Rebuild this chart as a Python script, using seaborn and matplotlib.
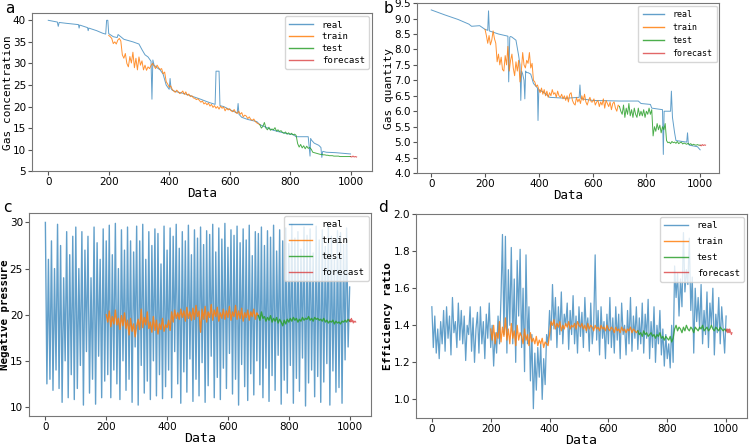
import numpy as np
import pandas as pd
import matplotlib
matplotlib.use("Agg")
import matplotlib.pyplot as plt
import seaborn as sns

# ---------------- panel a: gas concentration ----------------
a_real_x = [0, 30, 33, 36, 60, 100, 102, 104, 130, 132, 134, 160, 180, 190, 193,
            197, 200, 215, 228, 231, 250, 280, 300, 310, 320, 330, 340, 343, 346, 350,
            360, 370, 380, 390, 400, 403, 406, 410, 420, 450, 500, 530, 552, 555, 565,
            568, 580, 600, 625, 628, 631, 640, 660, 690, 700, 720, 740, 760, 790, 810,
            820, 860, 866, 868, 871, 880, 895, 902, 905, 908, 920, 950, 1000]
a_real_y = [40.0, 39.6, 38.6, 39.5, 39.3, 39.0, 38.2, 38.9, 38.3, 37.6, 38.2, 37.6, 37.0, 36.8, 40.0,
            40.0, 36.9, 36.2, 36.0, 36.7, 35.6, 35.0, 34.5, 33.2, 32.0, 31.5, 30.5, 21.7, 30.8, 29.6,
            29.0, 28.5, 27.5, 25.0, 24.0, 26.5, 24.2, 23.8, 23.5, 23.0, 21.8, 21.0, 20.5, 28.2, 28.2,
            20.2, 20.0, 19.3, 18.5, 20.7, 18.2, 17.5, 17.0, 16.5, 15.8, 15.2, 14.6, 14.2, 13.7, 13.5,
            13.0, 13.0, 8.5, 12.6, 12.2, 11.5, 11.0, 10.5, 8.2, 9.6, 9.4, 9.3, 9.0]
a_train = [36.5, 36.2, 35.8, 34.6, 35.0, 34.5, 35.4, 35.8, 35.2, 32.0, 31.2, 32.3, 30.0, 29.2, 31.6,
           30.1, 32.6, 29.0, 31.2, 28.5, 31.5,
           29.6, 30.6, 28.5, 29.6, 28.4, 29.2, 28.8, 29.5, 30.0, 29.4, 28.8, 29.6, 29.0, 28.6, 28.8,
           27.6, 28.0, 25.8, 25.2, 24.5,
           24.8, 24.0, 23.6, 23.3, 23.8, 23.4, 23.0, 23.2, 23.6, 22.8, 23.4, 22.6, 22.9, 22.3, 22.5,
           22.0, 21.9, 21.6, 21.8, 21.4,
           21.0, 21.3, 20.6, 20.9, 20.4, 20.8, 20.1, 20.5, 19.8, 20.2, 19.6, 20.0, 19.4, 20.1, 19.6,
           19.9, 19.0, 19.6, 19.2, 19.5,
           19.0, 18.8, 19.3, 18.6, 18.4, 18.9, 18.2, 18.6, 17.6, 18.0, 17.8, 17.2, 17.6, 17.0, 16.8,
           17.1, 16.5, 16.2, 16.0, 15.8]
a_test = [15.8, 15.0, 15.4, 16.3, 15.0, 14.6, 15.2, 14.5, 14.8, 14.6, 15.1, 14.3, 14.6, 14.2, 14.4,
          14.0, 13.8, 14.1, 13.6, 13.9, 13.5,
          13.8, 13.4, 13.6, 13.3, 11.4, 10.6, 11.2, 10.4, 10.9, 10.2, 10.8, 10.3, 10.5, 10.1, 9.4,
          9.3, 9.2, 9.1, 9.0, 8.9,
          8.9, 8.8, 8.8, 8.7, 8.7, 8.6, 8.6, 8.6, 8.5, 8.5, 8.5, 8.5, 8.4, 8.4, 8.4,
          8.4, 8.4, 8.4, 8.4, 8.4]
a_forecast = [8.4, 8.3, 8.5, 8.3, 8.4, 8.3]

# ---------------- panel b: gas quantity ----------------
b_real_x = [0, 50, 100, 140, 150, 180, 200, 210, 213, 216, 250, 285, 288, 292, 295,
            300, 315, 320, 325, 330, 333, 336, 340, 345, 348, 351, 354, 360, 370, 380,
            390, 395, 397, 400, 420, 440, 500, 550, 553, 556, 560, 600, 700, 770, 780,
            815, 820, 860, 863, 866, 869, 885, 890, 893, 897, 905, 910, 950, 953, 956,
            960, 990, 1000]
b_real_y = [9.28, 9.12, 8.97, 8.82, 8.75, 8.77, 8.65, 8.62, 9.25, 8.6, 8.5, 8.43, 6.95, 8.4, 8.42,
            8.4, 8.3, 8.05, 7.8, 7.5, 6.35, 7.3, 7.2, 7.0, 6.4, 7.3, 7.25, 7.25, 7.2, 6.9,
            6.8, 6.75, 5.7, 6.7, 6.6, 6.45, 6.42, 6.45, 6.85, 6.42, 6.4, 6.35, 6.33, 6.33, 6.25,
            6.22, 6.1, 6.05, 4.6, 6.0, 6.0, 6.0, 6.0, 6.65, 5.8, 5.3, 5.05, 5.0, 5.3, 4.95,
            4.9, 4.85, 4.75]
b_train = [8.65, 8.45, 8.2, 8.45, 8.15, 8.3, 8.6, 8.35, 8.2, 7.6, 7.85, 7.5, 7.75, 7.35, 7.3,
           7.8, 7.5, 8.1, 7.3, 7.65, 7.85,
           7.4, 7.15, 7.6, 7.3, 7.65, 6.95, 7.3, 7.9, 7.5, 7.4, 7.65, 7.55, 7.9, 7.4, 7.55,
           7.0, 6.95, 6.8, 6.85, 6.7,
           6.6, 6.75, 6.55, 6.7, 6.5, 6.65, 6.45, 6.6, 6.5, 6.7, 6.55, 6.6, 6.45, 6.65, 6.5,
           6.45, 6.55, 6.4, 6.5, 6.35,
           6.5, 6.3, 6.55, 6.6, 6.35, 6.25, 6.2, 6.45, 6.3, 6.4, 6.25, 6.5, 6.35, 6.55, 6.3,
           6.2, 6.35, 6.45, 6.3, 6.3,
           6.4, 6.2, 6.3, 6.35, 6.15, 6.3, 6.2, 6.4, 6.1, 6.35, 6.25, 6.15, 6.3, 6.05, 6.25,
           6.3, 6.1, 6.0, 6.2, 6.15]
b_test = [6.15, 6.0, 5.9, 6.2, 5.8, 6.1, 5.9, 6.25, 5.85, 6.05, 5.8, 6.1, 5.9, 5.8, 6.1,
          5.85, 6.0, 5.85, 6.05, 5.8, 6.0,
          5.9, 6.1, 5.9, 6.05, 5.2, 5.5, 5.35, 5.6, 5.4, 5.55, 5.3, 5.5, 5.4, 5.6, 5.05,
          4.98, 5.0, 4.95, 5.02, 4.98,
          5.0, 4.96, 5.02, 4.95, 4.98, 5.0, 4.94, 4.97, 4.95, 4.93, 4.96, 4.92, 4.95, 4.9, 4.93,
          4.91, 4.9, 4.92, 4.9, 4.9]
b_forecast = [4.9, 4.88, 4.92, 4.89, 4.91, 4.9]

# ---------------- panel c: negative pressure ----------------
c_real = [30, 12.5, 26, 13, 28, 11.8, 25, 14, 29.8, 12, 27.5, 10.5, 24, 15, 29, 11, 26.5, 13.5, 28.5, 10.8, 29.5,
          12, 25, 14.5, 29, 10.2, 27, 16, 28.5, 11.5, 24, 13, 29.5, 10.3, 27.8, 15.5, 26, 11, 29.3, 12.8, 28,
          13.5, 29.7, 11, 26.5, 14, 29.9, 12.5, 25, 10.8, 29.2, 15, 27, 11.8, 29.5, 13, 28, 10.5, 26.8, 16.5, 29.6,
          10.2, 28, 14.5, 29.8, 11.5, 26, 12.8, 29, 10.8, 27.5, 15, 29.3, 11.2, 28.8, 13.5, 25.5, 10.9, 29.6, 12.2, 27,
          14, 29.4, 11, 28.5, 16, 29.8, 12.5, 27.2, 10.4, 29, 13.8, 28, 11.6, 29.7, 15.2, 26.5, 10.6, 29.2, 13, 28.3,
          11.2, 29.5, 14.8, 27.6, 10.5, 29.1, 12.3, 28.7, 15.5, 29.8, 11, 26.8, 13.2, 29.4, 10.8, 28.2, 14.2, 29.9, 12, 27.3,
          15.8, 29.2, 11.4, 28.6, 13, 29.6, 10.2, 27.8, 14.6, 29.3, 12.2, 28.1, 10.7, 29.7, 13.6, 26.4, 11.3, 29, 15, 28.8,
          12.4, 29.5, 11, 27.5, 14.2, 29.1, 10.6, 28.4, 13.4, 29.7, 11.8, 26.9, 15.6, 29.2, 10.3, 28, 12.9, 29.4, 11.5, 27.7,
          14.5, 29.8, 10.4, 28.3, 13.1, 29, 11.7, 27.1, 15.3, 29.5, 10.1, 28.6, 12.6, 29.3, 14, 26.7, 11.1, 29.6, 13.3, 28.1,
          10.5, 29.2, 12.7, 27.4, 14.7, 29.7, 10.2, 28.5, 13.9, 26.2, 11.6, 29.1, 12.1, 28.9, 10.4, 27.6, 15.1, 29.4, 16.5, 23]
c_train = [20, 19.2, 20.4, 18.7, 19.8, 19.0, 20.5, 18.9, 19.6, 18.4, 19.9, 18.8, 20.2, 18.5, 19.4, 17.8, 19.6, 18.2, 19.0, 17.6, 18.8,
           19.5, 18.4, 20.6, 18.6, 19.7, 18.9, 20.3, 18.5, 19.2, 18.1, 19.8, 18.3, 19.4, 17.9, 19.0, 18.4, 19.6, 18.2, 18.9, 18.6,
           19.4, 18.3, 20.3, 19.2, 20.5, 19.6, 20.2, 19.5, 20.6, 19.7, 20.4, 19.3, 20.8, 19.6, 20.3, 19.4, 20.7, 19.5, 21.0, 19.8,
           20.4, 18.1, 20.6, 19.5, 20.9, 19.2, 20.3, 19.7, 21.1, 19.4, 20.5, 19.8, 20.8, 19.3, 20.2, 19.6, 20.6, 19.5, 20.4, 19.7,
           20.9, 19.4, 20.3, 19.8, 21.0, 19.5, 20.4, 19.6, 20.7, 19.3, 20.2, 19.7, 20.5, 19.4, 20.3, 19.8, 20.6, 19.5, 20.2, 19.9]
c_test = [19.9, 19.4, 20.3, 19.6, 19.8, 19.3, 19.7, 19.4, 19.9, 19.2, 19.6, 19.3, 19.7, 19.1, 19.5, 19.2, 18.8, 19.4, 19.0, 19.5, 19.2,
          19.6, 19.3, 19.7, 19.4, 19.6, 19.2, 19.5, 19.3, 19.7, 19.4, 19.6, 19.5, 19.8, 19.4, 19.6, 19.3, 19.7, 19.5, 19.6, 19.4,
          19.5, 19.3, 19.6, 19.2, 19.4, 19.1, 19.3, 19.2, 19.4, 19.0, 19.3, 19.1, 19.2, 19.0, 19.3, 19.2, 19.4, 19.2, 19.5, 19.3]
c_forecast = [19.3, 19.5, 19.2, 19.6, 19.3, 19.4, 19.1, 19.3, 19.2, 19.3, 19.2]

# ---------------- panel d: efficiency ratio ----------------
d_real = [1.50, 1.28, 1.45, 1.25, 1.38, 1.22, 1.42, 1.30, 1.48, 1.26, 1.50, 1.33, 1.45, 1.24, 1.55, 1.36, 1.42, 1.28, 1.52, 1.32, 1.48,
          1.30, 1.45, 1.21, 1.40, 1.35, 1.50, 1.26, 1.44, 1.20, 1.38, 1.47, 1.25, 1.50, 1.30, 1.42, 1.22, 1.46, 1.33, 1.52, 1.28,
          1.40, 1.18, 1.36, 1.25, 1.45, 1.30, 1.55, 1.89, 1.35, 1.88, 1.25, 1.70, 1.40, 1.82, 1.30, 1.65, 1.20, 1.75, 1.45, 1.81,
          1.28, 1.60, 1.15, 1.78, 1.30, 1.50, 1.10, 1.35, 0.95, 1.25, 1.05, 1.28, 1.12, 1.30, 1.00, 1.22, 1.08, 1.35, 1.30, 1.48,
          1.32, 1.62, 1.38, 1.55, 1.28, 1.50, 1.35, 1.58, 1.30, 1.46, 1.40, 1.52, 1.27, 1.48, 1.35, 1.56, 1.30, 1.45, 1.25, 1.50,
          1.34, 1.47, 1.28, 1.55, 1.36, 1.44, 1.26, 1.52, 1.30, 1.40, 1.78, 1.32, 1.48, 1.24, 1.50, 1.33, 1.42, 1.22, 1.46, 1.30,
          1.55, 1.28, 1.44, 1.25, 1.50, 1.32, 1.46, 1.22, 1.52, 1.35, 1.40, 1.24, 1.48, 1.30, 1.55, 1.26, 1.45, 1.33, 1.50, 1.27,
          1.44, 1.30, 1.52, 1.25, 1.46, 1.33, 1.54, 1.22, 1.42, 1.28, 1.50, 1.20, 1.40, 1.30, 1.48, 1.24, 1.38, 1.18, 1.35, 1.22,
          1.30, 1.17, 1.40, 1.20, 1.72, 1.55, 1.68, 1.45, 1.65, 1.50, 1.90, 1.58, 1.70, 1.62, 1.87, 1.48, 1.66, 1.25, 1.60, 1.42,
          1.55, 1.38, 1.62, 1.30, 1.48, 1.35, 1.58, 1.28, 1.52, 1.40, 1.60, 1.24, 1.46, 1.36, 1.55, 1.30, 1.50, 1.38, 1.25, 1.45]
d_train = [1.38, 1.32, 1.40, 1.30, 1.36, 1.33, 1.42, 1.31, 1.39, 1.34, 1.44, 1.32, 1.38, 1.30, 1.41, 1.33, 1.37, 1.29, 1.40, 1.32, 1.36,
           1.34, 1.30, 1.38, 1.32, 1.35, 1.29, 1.36, 1.31, 1.33, 1.30, 1.34, 1.29, 1.32, 1.30, 1.33, 1.28, 1.31, 1.30, 1.29, 1.35,
           1.42, 1.40, 1.43, 1.38, 1.41, 1.39, 1.42, 1.37, 1.40, 1.38, 1.41, 1.39, 1.42, 1.38, 1.40, 1.39, 1.41, 1.38, 1.42, 1.40,
           1.39, 1.41, 1.38, 1.40, 1.37, 1.41, 1.38, 1.40, 1.39, 1.37, 1.40, 1.38, 1.39, 1.37, 1.40, 1.38, 1.39, 1.37, 1.40, 1.38,
           1.37, 1.39, 1.38, 1.36, 1.39, 1.37, 1.38, 1.36, 1.39, 1.37, 1.38, 1.36, 1.38, 1.37, 1.39, 1.36, 1.38, 1.37, 1.36, 1.37]
d_test = [1.37, 1.35, 1.36, 1.34, 1.37, 1.35, 1.36, 1.34, 1.35, 1.36, 1.34, 1.35, 1.33, 1.35, 1.34, 1.36, 1.33, 1.34, 1.32, 1.34, 1.33,
          1.32, 1.34, 1.31, 1.33, 1.38, 1.40, 1.37, 1.39, 1.38, 1.36, 1.39, 1.37, 1.40, 1.38, 1.37, 1.39, 1.38, 1.36, 1.39, 1.38,
          1.37, 1.39, 1.38, 1.40, 1.37, 1.38, 1.39, 1.37, 1.38, 1.40, 1.38, 1.37, 1.39, 1.38, 1.37, 1.39, 1.38, 1.37, 1.38, 1.37]
d_forecast = [1.37, 1.38, 1.36, 1.38, 1.37, 1.36, 1.38, 1.37, 1.36, 1.35, 1.36]

train_x = np.arange(200, 701, 5)
test_x = np.arange(700, 1001, 5)
real_x = np.arange(0, 1001, 5)

panels = [
    dict(tag="a", tagxy=(5, 1), pos=[0.043, 0.617, 0.453, 0.353], ylabel="Gas concentration",
         real=(a_real_x, a_real_y), train=a_train, test=a_test,
         fc=(np.arange(1000, 1021, 4), a_forecast), ylim=(5, 41.6), yticks=np.arange(5, 41, 5),
         yfmt="%d", real_style=(0.7, 0.7), lw_main=0.7, xl=9, yl=(8, "normal"),
         leg=(6.5, 0.3)),
    dict(tag="b", tagxy=(384, 1), pos=[0.556, 0.613, 0.403, 0.380], ylabel="Gas quantity",
         real=(b_real_x, b_real_y), train=b_train, test=b_test,
         fc=(np.arange(1000, 1021, 4), b_forecast), ylim=(4.0, 9.5), yticks=np.arange(4.0, 9.6, 0.5),
         yfmt="%.1f", real_style=(0.7, 0.7), lw_main=0.7, xl=9, yl=(8, "normal"),
         leg=(6.0, 0.5)),
    dict(tag="c", tagxy=(3, 200), pos=[0.039, 0.069, 0.456, 0.454], ylabel="Negative pressure",
         real=(real_x, c_real), train=c_train, test=c_test,
         fc=(np.arange(1000, 1021, 2), c_forecast), ylim=(9.0, 31.0), yticks=np.arange(10, 31, 5),
         yfmt="%d", real_style=(1.0, 0.7), lw_main=1.0, xl=9.5, yl=(7.8, "bold"),
         leg=(6.5, 0.75)),
    dict(tag="d", tagxy=(378, 200), pos=[0.555, 0.065, 0.441, 0.456], ylabel="Efficiency ratio",
         real=(real_x, d_real), train=d_train, test=d_test,
         fc=(np.arange(1000, 1021, 2), d_forecast), ylim=(0.9, 2.0), yticks=np.arange(1.0, 2.01, 0.2),
         yfmt="%.1f", real_style=(0.9, 0.7), lw_main=0.9, xl=9.5, yl=(8, "bold"),
         leg=(6.5, 0.75)),
]

label_font = "DejaVu Sans Mono"
fig = plt.figure(figsize=(7.5, 4.47), dpi=100)
pal = sns.color_palette("tab10")

for p in panels:
    ax = fig.add_axes(p["pos"])
    sns.lineplot(x=p["real"][0], y=p["real"][1], ax=ax, color=pal[0], lw=p["real_style"][0],
                 alpha=p["real_style"][1], label="real")
    sns.lineplot(x=train_x, y=p["train"], ax=ax, color=pal[1], lw=p["lw_main"], alpha=0.85, label="train")
    sns.lineplot(x=test_x, y=p["test"], ax=ax, color=pal[2], lw=p["lw_main"], alpha=0.85, label="test")
    sns.lineplot(x=p["fc"][0], y=p["fc"][1], ax=ax, color=pal[3], lw=0.8, alpha=0.7, label="forecast")
    ax.set_xlim(-53, 1071)
    ax.set_ylim(*p["ylim"])
    ax.set_xticks([0, 200, 400, 600, 800, 1000])
    ax.set_yticks(p["yticks"])
    ax.yaxis.set_major_formatter(matplotlib.ticker.FormatStrFormatter(p["yfmt"]))
    ax.tick_params(labelsize=7.5, length=3, pad=1.5, color="#555555")
    for s in ax.spines.values():
        s.set_color("#777777")
    ax.set_xlabel("Data", fontsize=p["xl"], family=label_font, labelpad=-0.5)
    ax.set_ylabel(p["ylabel"], fontsize=p["yl"][0], fontweight=p["yl"][1],
                  family=label_font, labelpad=0)
    leg = ax.legend(loc="upper right", prop={"family": label_font, "size": p["leg"][0]},
                    handlelength=2.6, borderaxespad=0.3, labelspacing=p["leg"][1],
                    borderpad=0.5, handletextpad=1.0)
    for h in leg.get_lines():
        h.set_linewidth(1.0)
    fig.text(p["tagxy"][0] / 750, 1 - p["tagxy"][1] / 447, p["tag"],
             fontsize=11, ha="left", va="top")

fig.savefig("out.png", dpi=100)
